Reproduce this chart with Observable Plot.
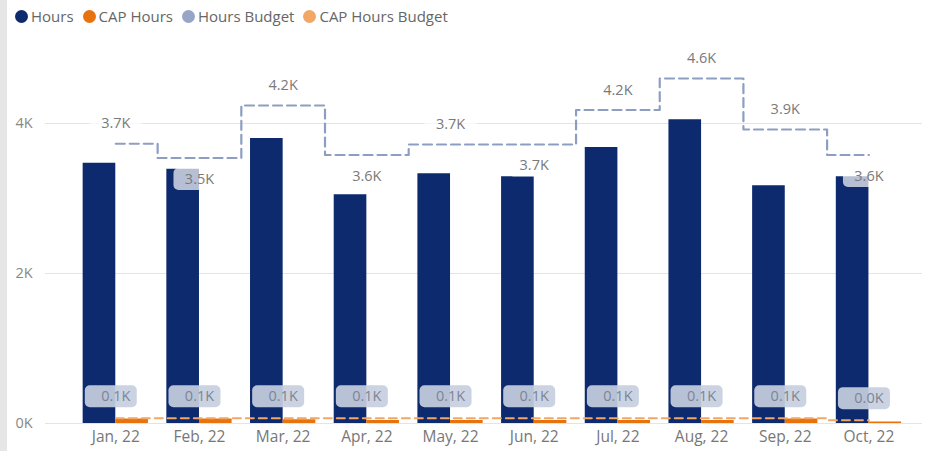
<!DOCTYPE html>
<html><head><meta charset="utf-8">
<script src="https://cdn.jsdelivr.net/npm/d3@7"></script>
<script src="https://cdn.jsdelivr.net/npm/@observablehq/plot@0.6"></script>
<style>
body{margin:0;background:#fff;font-family:"Segoe UI","Open Sans",sans-serif;}
#wrap{position:relative;width:932px;height:451px;overflow:hidden;background:#fff;}
#strip{position:absolute;left:0;top:0;width:7px;height:451px;background:#e6e6e6;}
#legend{height:32px;display:flex;align-items:center;padding-left:15px;font-size:15px;color:#666;}
.item{display:flex;align-items:center;margin-right:9px;}
.sw{width:13px;height:13px;border-radius:50%;margin-right:3px;}
#chart svg{display:block;}
</style></head><body>
<div id="wrap"><div id="strip"></div><div id="legend"></div><div id="chart"></div></div>
<script>
const months = ["Jan, 22","Feb, 22","Mar, 22","Apr, 22","May, 22","Jun, 22","Jul, 22","Aug, 22","Sep, 22","Oct, 22"];
const hours = [3.47, 3.39, 3.80, 3.05, 3.33, 3.29, 3.68, 4.05, 3.17, 3.29];
const capHours = [0.06, 0.06, 0.05, 0.04, 0.04, 0.04, 0.04, 0.04, 0.06, 0.02];
const hoursBudget = [3.73, 3.54, 4.24, 3.58, 3.72, 3.72, 4.18, 4.60, 3.92, 3.58];
const capHoursBudget = [0.07, 0.07, 0.07, 0.07, 0.07, 0.07, 0.07, 0.07, 0.07, 0.045];
const yTicks = [0, 2, 4];
const seriesNames = ["Hours", "CAP Hours", "Hours Budget", "CAP Hours Budget"];
const seriesColors = ["#0e2a6e", "#e8730c", "#97a6c6", "#f2a766"];
const budgetLabelBelow = ["Feb, 22", "Apr, 22", "Jun, 22", "Oct, 22"];

const rows = months.map((m, i) => ({
  month: m, i,
  hours: hours[i], capHours: capHours[i],
  hoursBudget: hoursBudget[i], capHoursBudget: capHoursBudget[i]
}));
const fmt = v => v.toFixed(1) + "K";

// legend
const legend = document.getElementById("legend");
seriesNames.forEach((n, k) => {
  const it = document.createElement("div"); it.className = "item";
  const sw = document.createElement("div"); sw.className = "sw"; sw.style.background = seriesColors[k];
  const tx = document.createElement("span"); tx.textContent = n;
  it.appendChild(sw); it.appendChild(tx); legend.appendChild(it);
});

function roundRect(w, h, r) {
  return {draw(ctx) {
    const x = -w / 2, y = -h / 2;
    ctx.moveTo(x + r, y); ctx.lineTo(x + w - r, y); ctx.arcTo(x + w, y, x + w, y + r, r);
    ctx.lineTo(x + w, y + h - r); ctx.arcTo(x + w, y + h, x + w - r, y + h, r);
    ctx.lineTo(x + r, y + h); ctx.arcTo(x, y + h, x, y + h - r, r);
    ctx.lineTo(x, y + r); ctx.arcTo(x, y, x + r, y, r); ctx.closePath();
  }};
}
const box = roundRect(52, 22, 5);
const above = rows.filter(d => !budgetLabelBelow.includes(d.month));
const below = rows.filter(d => budgetLabelBelow.includes(d.month));

const chart = Plot.plot({
  width: 932, height: 419,
  marginLeft: 45, marginRight: 10, marginTop: 16, marginBottom: 28,
  x: {domain: [-0.84, 9.64]},
  y: {domain: [0, 5], axis: null},
  style: {fontFamily: '"Segoe UI","Open Sans",sans-serif', fontSize: "14px", color: "#777", background: "transparent"},
  marks: [
    Plot.ruleY(yTicks, {stroke: "#e4e4e4", strokeWidth: 1}),
    Plot.text(yTicks, {y: d => d, text: d => d + "K", frameAnchor: "left", textAnchor: "start", dx: -30, fill: "#888", fontSize: 14.5}),
    Plot.rectY(rows, {x1: d => d.i - 0.39, x2: d => d.i, y: "hours", fill: seriesColors[0]}),
    Plot.rectY(rows, {x1: d => d.i, x2: d => d.i + 0.39, y: "capHours", fill: seriesColors[1]}),
    Plot.lineY(rows, {x: "i", y: "hoursBudget", curve: "step", stroke: "#8e9ec2", strokeWidth: 2.2, strokeDasharray: "9,5"}),
    Plot.lineY(rows, {x: "i", y: "capHoursBudget", curve: "step", stroke: seriesColors[3], strokeWidth: 2, strokeDasharray: "8,5"}),
    // budget labels
    Plot.dot(above, {x: "i", y: "hoursBudget", dy: -20, symbol: box, r: 5, fill: "white", fillOpacity: 0.7, stroke: null}),
    Plot.dot(below, {x: "i", y: "hoursBudget", dy: 21, symbol: box, r: 5, fill: "white", fillOpacity: 0.7, stroke: null}),
    Plot.text(above, {x: "i", y: "hoursBudget", dy: -20, text: d => fmt(d.hoursBudget), fill: "#7a7a7a", fontSize: 14.5}),
    Plot.text(below, {x: "i", y: "hoursBudget", dy: 21, text: d => fmt(d.hoursBudget), fill: "#7a7a7a", fontSize: 14.5}),
    // CAP budget labels
    Plot.dot(rows, {x: "i", y: "capHoursBudget", dx: -5, dy: -22, symbol: box, r: 5, fill: "#c7cfe0", fillOpacity: 0.92, stroke: null}),
    Plot.text(rows, {x: "i", y: "capHoursBudget", dy: -22, text: d => fmt(d.capHoursBudget), fill: "#7d8594", fontSize: 14.5}),
    Plot.axisX({ticks: rows.map(d => d.i), tickFormat: i => months[i], tickSize: 0, tickPadding: 7, fontSize: 15.5, color: "#777", label: null})
  ]
});
document.getElementById("chart").appendChild(chart);
</script>
</body></html>
